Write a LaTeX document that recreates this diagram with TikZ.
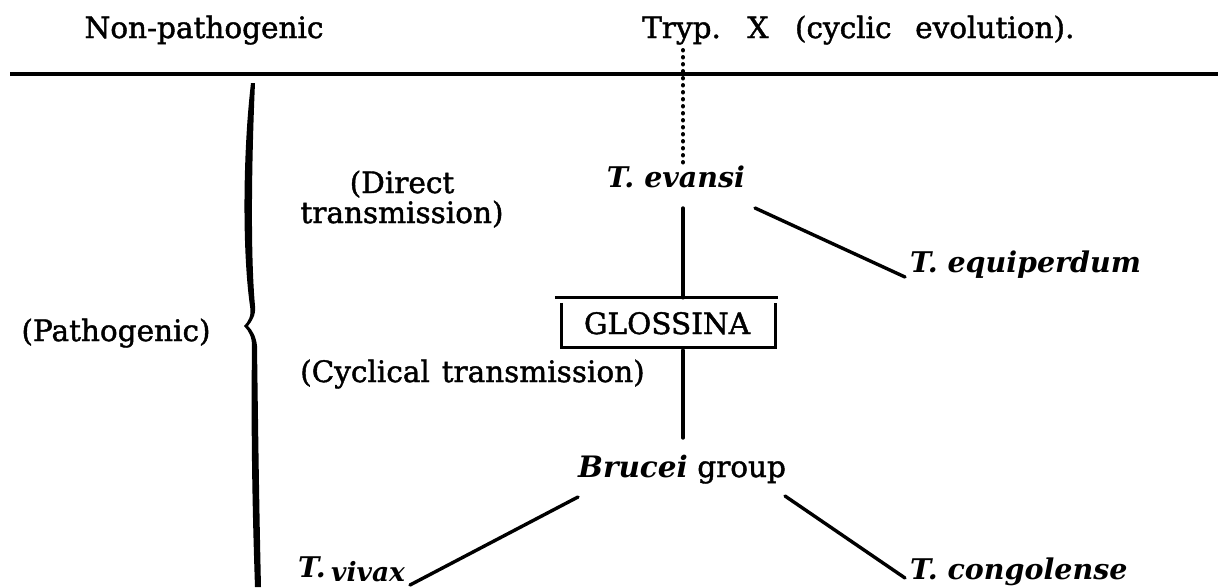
\documentclass[tikz,border=0pt]{standalone}
\usepackage{fontspec}
\setmainfont{DejaVu Serif}[UprightFeatures={FakeBold=1.4}]
\tikzset{
  txt/.style={inner sep=0pt, font=\fontsize{29.5}{30}\selectfont},
  sp/.style={txt, font=\fontsize{28.5}{30}\selectfont\bfseries\itshape},
  conn/.style={line width=3.4pt, line cap=round},
  rule/.style={line width=3.2pt},
  dots/.style={line width=4pt, line cap=round, dash pattern=on 0.5pt off 6.5pt}
}
\begin{document}
\begin{tikzpicture}[x=1pt, y=-1pt]
\useasboundingbox[fill=white] (0,0) rectangle (1218,587);
% header
\node[txt, anchor=base] (np) at (204,38) {Non-pathogenic};
\node[txt, anchor=base west] (tryp) at (642,38) {Tryp.\hspace{0.9em}X\hspace{0.9em}(cyclic\hspace{0.8em}evolution).};
\draw[rule] (10,74) -- (1218,74);
% nodes
\coordinate (trunk) at (683,0);
\node[sp, anchor=base] (evansi) at (676,187) {T. evansi};
\node[sp, anchor=base west] (equi) at (910,272) {T. equiperdum};
\node[txt, anchor=base, align=center] (direct) at (402,223) {(Direct\\transmission)};
\node[txt, minimum width=213pt, minimum height=47pt] (glbox) at (668.5,323.5) {};
\node[txt, anchor=base] (gl) at (667,334) {GLOSSINA};
\node[txt, anchor=base] (patho) at (116,341) {(Pathogenic)};
\node[txt, anchor=base west] (cyc) at (300,382) {(Cyclical\hspace{0.4em}transmission)};
\node[txt, anchor=base] (brucei) at (682,477) {{\bfseries\itshape Brucei} group};
\node[sp, anchor=base west] (vivaxT) at (298,577) {T.};
\node[sp, anchor=base west, font=\fontsize{26.5}{30}\selectfont\bfseries\itshape] (vivax) at (331,581) {vivax};
\node[sp, anchor=base west] (congo) at (910,579) {T. congolense};
% box
\draw[rule] ([xshift=-7pt,yshift=2pt]glbox.north west) -- ([xshift=3pt,yshift=2pt]glbox.north east);
\draw[rule] ([yshift=-3pt]glbox.north west) -- (glbox.south west) -- (glbox.south east) -- ([yshift=-3pt]glbox.north east);
% connectors
\coordinate (dtop) at (683,50);
\coordinate (dbot) at (683,163);
\draw[dots] (dtop) -- (dbot);
\coordinate (t1) at (683,208);
\draw[conn] (t1) -- ([yshift=2pt]glbox.north -| trunk);
\coordinate (t2) at (683,438);
\draw[conn] ([yshift=-3pt]glbox.south -| trunk) -- (t2);
\coordinate (eqS) at (755,208);
\coordinate (eqE) at (905,277);
\draw[conn] (eqS) -- (eqE);
\coordinate (bl1) at (578,497);
\coordinate (bl2) at (410,585);
\draw[conn] (bl1) -- (bl2);
\coordinate (br1) at (785,496);
\coordinate (br2) at (905,578);
\draw[conn] (br1) -- (br2);
% brace
\fill (251,83) .. controls (243,150) and (242,250) .. (250,306)
  .. controls (252,316) and (248,322) .. (244,326)
  .. controls (249,331) and (252,337) .. (252,346)
  .. controls (251,420) and (252,500) .. (255,587)
  -- (261,587)
  .. controls (259,500) and (258,420) .. (257,346)
  .. controls (256,336) and (252,330) .. (248,326)
  .. controls (252,321) and (256,315) .. (255,306)
  .. controls (250,250) and (252,150) .. (255,83) -- cycle;
\end{tikzpicture}
\end{document}
